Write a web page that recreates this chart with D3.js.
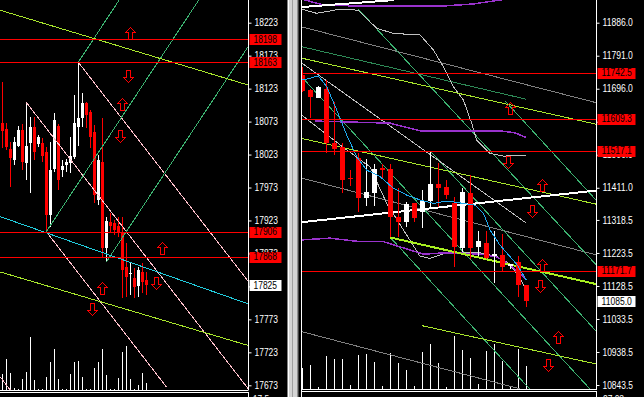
<!DOCTYPE html>
<html>
<head>
<meta charset="utf-8">
<script src="https://cdn.jsdelivr.net/npm/d3@7"></script>
<style>
  body { margin: 0; background: #000; overflow: hidden; }
  text { font-family: "Liberation Sans", Arial, sans-serif; font-size: 10px; }
</style>
</head>
<body>
<svg width="644" height="397"></svg>
<script>
// ---------- left window (bar index, price) ----------
const leftOHLC = [
  [18071,18133,18033,18059],[18062,18071,18030,18034],[18032,18042,17974,18019],[18015,18050,18007,18042],
  [18037,18066,18035,18061],[18061,18070,18000,18013],[18010,18102,17984,18036],[18040,18080,17964,18065],
  [18065,18080,18015,18027],[18040,18053,18035,18050],[18040,18048,18012,18020],[18027,18035,17906,17931],
  [17931,18042,17913,18000],[18000,18086,17996,18075],[18066,18069,17969,17984],[18000,18015,17989,18006],
  [18006,18016,17997,18011],[18011,18050,17995,18021],[18019,18113,18017,18071],[18066,18163,18036,18079],
  [18078,18116,18065,18101],[18101,18102,18063,18083],[18088,18091,18033,18050],[18057,18068,17950,17962],
  [17954,18022,17946,18015],[18012,18078,17866,17881],[17881,17929,17860,17922],[17920,17934,17906,17914],
  [17919,17924,17901,17909],[17915,17929,17898,17904],[17904,17929,17805,17848],[17853,17889,17807,17838],
  [17842,17858,17810,17844],[17836,17851,17805,17823],[17823,17853,17807,17848],[17845,17858,17813,17830],
  [17833,17845,17810,17825]
];
const leftVolume = [167,313,180,27,13,113,183,540,107,13,20,140,290,417,113,13,13,167,290,297,140,20,13,223,283,417,157,13,20,130,383,447,113,20,57,180,80];
const leftTicks = [18223,18173,18123,18073,18023,17973,17923,17873,17823,17773,17723,17673];
const leftLevels = [18198,18163,17906,17868];
const leftLast = 17825;
const leftYellowLines = [[[-0.575,18242],[61.7,18128]], [[-0.575,17845],[61.7,17733]]];
const leftCyanLines = [[[-0.575,17929],[61.7,17796]]];
const leftGreenLines = [[[19,18163],[29.4,18259]], [[11,17906],[49.4,18260]], [[26,17860],[61.7,18189]]];
const leftPinkLines = [[[6,18102],[61.7,17666]], [[19,18163],[61.7,17829]], [[11,17906],[41.1,17670]], [[-0.575,17686],[3.9,17651]]];
const leftArrows = [[31.9,18207,'up'],[31.4,18142,'down'],[29.9,18100,'up'],[29.4,18051,'down'],
                    [39.9,17881,'up'],[38.4,17828,'down'],[24.9,17821,'up'],[22.4,17789,'down']];

// ---------- right window (bar index, price) ----------
const rightOHLC = [
  [11735,11759,11688,11690],[11692,11694,11611,11673],[11670,11703,11669,11702],[11695,11721,11510,11539],
  [11539,11659,11505,11522],[11527,11541,11397,11433],[11438,11462,11416,11435],[11497,11510,11342,11382],
  [11382,11493,11358,11400],[11397,11478,11359,11465],[11467,11478,11435,11462],[11465,11479,11268,11326],
  [11328,11411,11268,11313],[11313,11371,11297,11364],[11366,11368,11313,11323],[11342,11405,11294,11374],
  [11374,11517,11356,11422],[11422,11481,11356,11411],[11414,11433,11378,11390],[11366,11385,11182,11240],
  [11240,11410,11227,11400],[11397,11448,11205,11240],[11240,11287,11215,11258],[11253,11287,11205,11211],
  [11213,11287,11138,11220],[11218,11277,11169,11184],[11184,11191,11176,11191],[11198,11215,11098,11131],
  [11131,11131,11067,11085]
];
const rightVolume = [216,243,20,333,300,300,43,343,353,276,33,366,266,193,33,370,453,266,20,533,393,316,53,383,453,286,26,403,233];
const rightTicks = [11886.0,11791.0,11696.0,11601.0,11506.0,11411.0,11318.5,11223.5,11128.5,11033.5,10938.5,10843.5];
const rightLevels = [11742.5,11609.3,11517.1,11171.7];
const rightLast = 11085.0;
const rightYellowLines = [[[-0.075,11784],[36.71,11594]], [[-0.075,11553],[36.71,11364]], [[15,11014],[36.71,10904]]];
const rightSupportLine = [[[11,11268],[36.71,11134]]];
const rightGreyLines = [[[-0.075,11874],[36.71,11656]], [[-0.075,11439],[36.71,11218]], [[-0.075,10997],[36.71,10775]]];
const rightDarkGreenLines = [[[-0.075,11817],[27.96,11666]]];
const rightGreenLines = [[[7,11925],[36.71,11190]], [[-0.075,11730],[35.96,10832]], [[11,11268],[28.46,10831]],
                         [[16,11517],[36.71,10999]], [[25.34,11661],[36.71,11376]]];
const rightSilverLines = [
  [[-0.075,11770],[27.96,11310]],
  [[-0.08,11925],[1.8,11913],[4.71,11925],[6.96,11922],[9.3,11870],[11.38,11855],[14.71,11851],[16.38,11808],
   [17.63,11759],[18.88,11702],[20.13,11664],[21.18,11596],[21.8,11548],[23.46,11510],[25.13,11502],[27.96,11505]],
  [[-0.08,11620],[5.09,11528],[8.46,11471],[10.55,11366],[13.46,11260],[14.71,11214],[15.96,11208],[18.05,11224],
   [22.21,11224],[24.3,11213],[25.55,11197],[26.8,11165],[28.05,11117]]
];
const rightPurpleLines = [
  [[-0.08,11954],[2.63,11937],[6.8,11934],[17.63,11934],[21.38,11940],[25.55,11954],[27.96,11966]],
  [[1.59,11603],[10.96,11597],[14.71,11575],[24.71,11575],[26.59,11569],[27.96,11556]],
  [[-0.08,11261],[3.46,11266],[7.21,11256],[10.13,11256],[12.21,11241],[15.13,11220],[17.21,11223],[19.71,11223],
   [22.21,11220],[24.3,11212],[25.96,11189],[28.05,11146]]
];
const rightBlueLine = [[-0.08,11721],[0.96,11726],[2,11733],[3.05,11702],[4.3,11635],[5.55,11563],[6.8,11500],
  [8.05,11462],[9.71,11443],[11.38,11410],[13.05,11390],[14.71,11376],[16.38,11366],[18.05,11373],[20.13,11366],
  [21.59,11361],[22.63,11338],[23.46,11290],[24.71,11246],[25.96,11213],[26.96,11186],[28,11146]];
const rightWhiteLines = [[[-0.075,11312],[36.71,11403]], [[-0.075,11931],[11.4,11951]]];
const rightArrows = [[25.96,11641,'up'],[25.71,11485,'down'],[29.96,11419,'up'],[28.71,11344,'down'],
                     [29.96,11189,'up'],[29.71,11128,'down'],[31.96,10982,'up'],[30.71,10901,'down']];

const svg = d3.select('svg');
svg.append('rect').attr('width', 644).attr('height', 397).attr('fill', '#000');

// scales
const xLeft = d3.scaleLinear().domain([0, 36]).range([2.3, 146.3]);
const yLeft = d3.scaleLinear().domain([18223, 17673]).range([22.7, 385.3]);
const vLeft = d3.scaleLinear().domain([0, 600]).range([390.5, 330.5]);
const xRight = d3.scaleLinear().domain([0, 28]).range([302.3, 526.3]);
const yRight = d3.scaleLinear().domain([11886, 10843.5]).range([22.7, 385]);
const vRight = d3.scaleLinear().domain([0, 600]).range([389.3, 329.3]);

const defs = svg.append('defs');
defs.append('clipPath').attr('id', 'clipL').append('rect').attr('x', 0).attr('y', 0).attr('width', 248).attr('height', 390);
defs.append('clipPath').attr('id', 'clipR').append('rect').attr('x', 302).attr('y', 0).attr('width', 294).attr('height', 389);

// narrow terminal font: squeeze each label to the width seen in the picture
const labelWidth = s => s.replace(/[^0-9]/g, '').length * 4.7 + (s.includes('.') ? 2.2 : 0);

const drawLines = (g, sets, x, y, color, width) => {
  const line = d3.line().x(d => x(d[0])).y(d => y(d[1]));
  g.selectAll(null).data(sets).enter().append('path')
    .attr('d', line)
    .attr('fill', 'none')
    .attr('stroke', color)
    .attr('stroke-width', width);
};

const drawVolume = (g, data, x, v) => {
  g.selectAll(null).data(data).enter().append('line')
    .attr('x1', (d, i) => Math.round(x(i)) + 0.5)
    .attr('x2', (d, i) => Math.round(x(i)) + 0.5)
    .attr('y1', v(0))
    .attr('y2', d => v(d))
    .attr('stroke', '#fff');
};

const drawCandles = (g, data, x, y, bodyW) => {
  const col = d => d[3] >= d[0] ? '#fff' : '#f00';
  const bars = g.selectAll(null).data(data).enter().append('g');
  bars.append('line')
    .attr('x1', (d, i) => Math.round(x(i)) + 0.5)
    .attr('x2', (d, i) => Math.round(x(i)) + 0.5)
    .attr('y1', d => y(d[1]))
    .attr('y2', d => y(d[2]))
    .attr('stroke', col);
  bars.append('rect')
    .attr('x', (d, i) => Math.round(x(i)) - (bodyW - 1) / 2)
    .attr('y', d => Math.round(y(Math.max(d[0], d[3]))))
    .attr('width', bodyW)
    .attr('height', d => Math.max(1, Math.round(Math.abs(y(d[0]) - y(d[3])))))
    .attr('fill', col);
};

const drawLevels = (g, levels, y, x1, x2) => {
  g.selectAll(null).data(levels).enter().append('line')
    .attr('x1', x1).attr('x2', x2)
    .attr('y1', d => Math.round(y(d)) + 0.5)
    .attr('y2', d => Math.round(y(d)) + 0.5)
    .attr('stroke', '#f00');
};

const arrowPath = (cx, cy, dir) => {
  const s = dir === 'up' ? 1 : -1;
  cx = Math.round(cx) + 0.5; cy = Math.round(cy) + 0.5;
  const p = [[0,-6],[5,-1],[2,-1],[2,6],[-2,6],[-2,-1],[-5,-1]];
  return 'M' + p.map(q => [cx + q[0], cy + s * q[1]].join(',')).join('L') + 'Z';
};

const drawArrows = (g, data, x, y) => {
  g.selectAll(null).data(data).enter().append('path')
    .attr('d', d => arrowPath(x(d[0]), y(d[1]), d[2]))
    .attr('fill', 'none')
    .attr('stroke', '#f00');
};

const drawAxis = (x0, y, ticks, fmt, levels, last, boxW) => {
  svg.append('line').attr('x1', x0).attr('x2', x0).attr('y1', 0).attr('y2', 390).attr('stroke', '#fff');
  const ax = svg.append('g')
    .attr('transform', `translate(${x0},0)`)
    .call(d3.axisRight(y).tickValues(ticks).tickSize(3).tickSizeOuter(0).tickFormat(fmt));
  ax.select('.domain').remove();
  ax.selectAll('.tick line').attr('stroke', '#fff');
  ax.selectAll('.tick text')
    .attr('fill', '#fff').attr('x', 6)
    .attr('textLength', d => labelWidth(fmt(d)))
    .attr('lengthAdjust', 'spacingAndGlyphs');
  const boxes = [...levels.map(v => ({ v, bg: '#f00' })), { v: last, bg: '#fff' }];
  const b = svg.append('g').selectAll(null).data(boxes).enter().append('g');
  b.append('rect')
    .attr('x', x0 + 1).attr('y', d => Math.round(y(d.v)) - 5)
    .attr('width', boxW).attr('height', 11)
    .attr('fill', d => d.bg);
  b.append('text')
    .attr('x', x0 + 5).attr('y', d => y(d.v)).attr('dy', '0.35em')
    .attr('fill', '#000')
    .attr('textLength', d => labelWidth(fmt(d.v)))
    .attr('lengthAdjust', 'spacingAndGlyphs')
    .text(d => fmt(d.v));
};

// ---------- left window ----------
const gL = svg.append('g').attr('clip-path', 'url(#clipL)').attr('shape-rendering', 'crispEdges');
drawVolume(gL, leftVolume, xLeft, vLeft);
drawCandles(gL, leftOHLC, xLeft, yLeft, 3);
drawLines(gL, leftPinkLines, xLeft, yLeft, '#ffc0cb', 1);
drawLines(gL, leftGreenLines, xLeft, yLeft, '#3cb371', 1);
drawLines(gL, leftYellowLines, xLeft, yLeft, '#a8e62c', 1);
drawLines(gL, leftCyanLines, xLeft, yLeft, '#22ccdd', 1);
drawLevels(gL, leftLevels, yLeft, 0, 248);
drawArrows(gL, leftArrows, xLeft, yLeft);
drawAxis(248.5, yLeft, leftTicks, d3.format('d'), leftLevels, leftLast, 32);

// ---------- right window ----------
const gR = svg.append('g').attr('clip-path', 'url(#clipR)').attr('shape-rendering', 'crispEdges');
drawVolume(gR, rightVolume, xRight, vRight);
drawLines(gR, rightGreyLines, xRight, yRight, '#808080', 1);
drawLines(gR, rightDarkGreenLines, xRight, yRight, '#2e8b57', 1);
drawLines(gR, rightGreenLines, xRight, yRight, '#3cb371', 1);
drawLines(gR, rightSilverLines, xRight, yRight, '#c0c0c0', 1);
drawLines(gR, rightPurpleLines, xRight, yRight, '#9932cc', 1.5);
drawLines(gR, rightYellowLines, xRight, yRight, '#a8e62c', 1);
drawLines(gR, rightSupportLine, xRight, yRight, '#a8f020', 2);
drawLines(gR, rightWhiteLines, xRight, yRight, '#fff', 2);
drawCandles(gR, rightOHLC, xRight, yRight, 5);
drawLines(gR, [rightBlueLine], xRight, yRight, '#1eaaf0', 1);
drawLevels(gR, rightLevels, yRight, 302, 596);
drawArrows(gR, rightArrows, xRight, yRight);
drawAxis(596.5, yRight, rightTicks, d3.format('.1f'), rightLevels, rightLast, 38);
svg.append('line').attr('x1', 301.5).attr('x2', 301.5).attr('y1', 0).attr('y2', 397).attr('stroke', '#fff');

// ---------- window borders and lower sub-windows ----------
svg.append('line').attr('x1', 0).attr('x2', 248.5).attr('y1', 390.5).attr('y2', 390.5).attr('stroke', '#fff');
svg.append('rect').attr('x', -1).attr('y', 392.5).attr('width', 249.5).attr('height', 20)
  .attr('fill', 'none').attr('stroke', '#fff');
svg.append('line').attr('x1', 301.5).attr('x2', 596.5).attr('y1', 389.5).attr('y2', 389.5).attr('stroke', '#fff');
svg.append('rect').attr('x', 301.5).attr('y', 391.5).attr('width', 295).attr('height', 20)
  .attr('fill', 'none').attr('stroke', '#fff');
svg.append('text').attr('x', 253).attr('y', 403).attr('fill', '#fff')
  .attr('textLength', 16).attr('lengthAdjust', 'spacingAndGlyphs').text('17.5');
svg.append('text').attr('x', 603).attr('y', 403).attr('fill', '#fff')
  .attr('textLength', 21).attr('lengthAdjust', 'spacingAndGlyphs').text('27.03');

// ---------- splitter between the two windows ----------
const splitter = [['#808080',287,1],['#ffffff',288,1],['#d4d4d4',289,3],['#a0a0a0',292,1],
                  ['#d4d4d4',293,4],['#909090',297,1],['#404040',298,1]];
svg.append('g').selectAll(null).data(splitter).enter().append('rect')
  .attr('x', d => d[1]).attr('y', 0).attr('width', d => d[2]).attr('height', 397)
  .attr('fill', d => d[0]);
</script>
</body>
</html>
